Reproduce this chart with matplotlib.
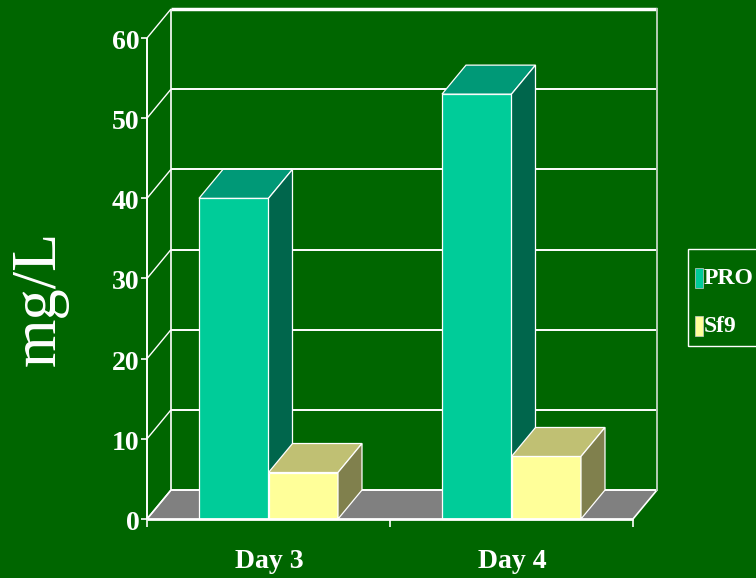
import matplotlib
matplotlib.use('Agg')
import matplotlib.pyplot as plt
from matplotlib.patches import Polygon, Rectangle

categories = ['Day 3', 'Day 4']
series = ['PRO', 'Sf9']
pro = [40, 53]
sf9 = [5.8, 7.8]
yticks = [0, 10, 20, 30, 40, 50, 60]

BG = '#006600'
FLOOR = '#808080'
# front / top / side shade per series
PRO_C = ('#00CC99', '#009977', '#00664C')
SF9_C = ('#FFFF99', '#C0C073', '#80804D')

W, H = 756, 578
DX = 24 / 243.0     # depth offset, category units
DY = 29 / 8.02      # depth offset, value units
BW = 0.286          # bar width

fig = plt.figure(figsize=(W / 100, H / 100), dpi=100, facecolor=BG)
ax = fig.add_axes([147 / W, 59 / H, 510 / W, 510 / H])
ax.set_xlim(0, len(categories) + DX)
ax.set_ylim(0, yticks[-1] + DY)
ax.axis('off')
ax.set_facecolor(BG)

ncat = len(categories)
kw = dict(color='white', clip_on=False, solid_capstyle='butt')

# floor
ax.add_patch(Polygon([(0, 0), (ncat, 0), (ncat + DX, DY), (DX, DY)],
                     closed=True, fc=FLOOR, ec='none', zorder=1, clip_on=False))
ax.plot([0, DX], [0, DY], lw=1.2, zorder=2, **kw)
ax.plot([ncat, ncat + DX], [0, DY], lw=1.2, zorder=2, **kw)

# back wall grid + left wall diagonals
for v in yticks:
    ax.plot([DX, ncat + DX], [v + DY, v + DY], lw=2.5 if v == yticks[-1] else 1.4,
            zorder=2, **kw)
    ax.plot([0, DX], [v, v + DY], lw=1.0, zorder=2, **kw)
ax.plot([DX, DX], [DY, yticks[-1] + DY], lw=1.2, zorder=2, **kw)
ax.plot([ncat + DX] * 2, [DY, yticks[-1] + DY], color='#b5ccb5', lw=1.4,
        zorder=2, clip_on=False)

# front value axis
ax.plot([0, 0], [0, yticks[-1]], lw=1.4, zorder=6, **kw)
for v in yticks:
    ax.plot([-0.025, 0], [v, v], lw=1.2, zorder=6, **kw)
    ax.text(-0.03, v - 0.55, str(v), ha='right', va='center', color='white',
            fontsize=20, fontweight='bold', family='Liberation Serif')

# bars with top and side faces
for k, (vals, cols) in enumerate([(pro, PRO_C), (sf9, SF9_C)]):
    xs = [i + 0.5 + (k - 0.5) * BW for i in range(ncat)]
    ax.bar(xs, vals, width=BW, color=cols[0], edgecolor='white', linewidth=0.9,
           zorder=3 + k, clip_on=False)
    for x, v in zip(xs, vals):
        x0, x1 = x - BW / 2, x + BW / 2
        ax.add_patch(Polygon([(x0, v), (x1, v), (x1 + DX, v + DY), (x0 + DX, v + DY)],
                             closed=True, fc=cols[1], ec='white', lw=0.9,
                             zorder=3 + k, clip_on=False))
        ax.add_patch(Polygon([(x1, 0), (x1 + DX, DY), (x1 + DX, v + DY), (x1, v)],
                             closed=True, fc=cols[2], ec='white', lw=0.9,
                             zorder=3 + k, clip_on=False))

# category axis
ax.plot([0, ncat], [0, 0], lw=2, zorder=6, **kw)
for i in range(ncat + 1):
    ax.plot([i, i], [0, -1.0], lw=1.2, zorder=6, **kw)
for i, c in enumerate(categories):
    ax.text(i + 0.502, -6.1, c, ha='center', va='baseline', color='white',
            fontsize=20, fontweight='bold', family='Liberation Serif')

fig.text(40 / W, 1 - 298 / H, 'mg/L', rotation=90, ha='center', va='center',
         color='white', fontsize=45, family='Liberation Serif')

# legend
fig.patches.append(Rectangle((688 / W, 1 - 346 / H), 0.2, 97 / H, fill=False,
                             ec='white', lw=1, transform=fig.transFigure,
                             figure=fig))
for name, cols, yc in [('PRO', PRO_C, 278), ('Sf9', SF9_C, 326)]:
    fig.patches.append(Rectangle((695 / W, 1 - (yc + 10) / H), 8 / W, 20 / H,
                                 fc=cols[0], ec='#cccccc', lw=0.5,
                                 transform=fig.transFigure, figure=fig))
    fig.text(704 / W, 1 - yc / H, name, ha='left', va='center', color='white',
             fontsize=17, fontweight='bold', family='Liberation Serif')

fig.savefig('out.png', dpi=100, facecolor=BG)
